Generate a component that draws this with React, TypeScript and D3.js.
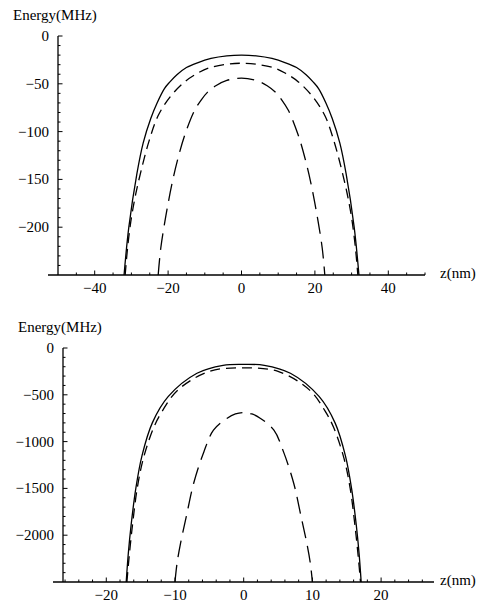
import React from "react";
import * as d3 from "d3";

// ---------- Data ----------
// Top panel
const topSolidZ = [-32, -30.7, -28.5, -26.8, -24.7, -23, -21, -19.5, -17.6, -15, -12, -8.3, -4, 0, 4, 8.3, 12, 15, 17.6, 19.5, 21, 23, 24.7, 26.8, 28.5, 30.7, 32];
const topSolidE = [-250, -200, -144, -112, -86, -70, -55, -48, -40.5, -33, -28, -23.5, -20.8, -20, -20.8, -23.5, -28, -33, -40.5, -48, -55, -70, -86, -112, -144, -200, -250];

const topMedZ = [-31.7, -31, -30, -28.8, -27.3, -25.2, -22.8, -19.5, -15.5, -12, -9, -4, 0, 4, 9, 12, 15.5, 19.5, 22.8, 25.2, 27.3, 28.8, 30, 31, 31.7];
const topMedE = [-250, -220, -190, -165, -140, -110, -84, -64, -48, -39, -33.5, -29.5, -28.5, -29.5, -33.5, -39, -48, -64, -84, -110, -140, -165, -190, -220, -250];

const topLongZ = [-22.7, -22, -20.6, -18.8, -17.1, -15.4, -12.8, -11, -9.3, -7, -4, 0, 4, 7, 9.3, 11, 12.8, 15.4, 17.1, 18.8, 20.6, 22, 22.7];
const topLongE = [-250, -222, -188, -152, -125, -103, -78, -67, -59, -52, -46.5, -44, -46.5, -52, -59, -67, -78, -103, -125, -152, -188, -222, -250];

// Bottom panel
const botSolidZ = [-17.1, -16.8, -16.4, -15.7, -14.8, -13.3, -11, -6.8, -3, 0, 3, 6.8, 11, 13.3, 14.8, 15.7, 16.4, 16.8, 17.1];
const botSolidE = [-2500, -2200, -1900, -1500, -1150, -800, -520, -270, -185, -175, -185, -270, -520, -800, -1150, -1500, -1900, -2200, -2500];

const botMedZ = [-17.0, -16.7, -16.2, -15.5, -14.6, -13.1, -11.9, -9.6, -5, 0, 5, 9.6, 11.9, 13.1, 14.6, 15.5, 16.2, 16.7, 17.0];
const botMedE = [-2500, -2250, -1900, -1500, -1180, -850, -680, -450, -250, -212, -250, -450, -680, -850, -1180, -1500, -1900, -2250, -2500];

const botLongZ = [-10, -9.7, -9.2, -8.35, -7.3, -5.8, -4.4, -2.4, -1.2, 0, 1.2, 2.4, 4.4, 5.8, 7.3, 8.35, 9.2, 9.7, 10];
const botLongE = [-2500, -2300, -2090, -1800, -1450, -1110, -878, -750, -705, -690, -705, -750, -878, -1110, -1450, -1800, -2090, -2300, -2500];

// Ticks
const topXMajor = [-40, -20, 0, 20, 40];
const topYMajor = [0, -50, -100, -150, -200];
const botXMajor = [-20, -10, 0, 10, 20];
const botYMajor = [0, -500, -1000, -1500, -2000];

const yLabel = "Energy(MHz)";
const xLabel = "z(nm)";

const FONT_STYLE = { fontFamily: "Liberation Serif, Times New Roman, Tinos, DejaVu Serif, serif", fontSize: "15px" };
const fmt = d3.format("d");

type Series = { z: number[]; e: number[]; dash: string | null };

type PanelProps = {
  id: string;
  xDomain: [number, number];
  xRange: [number, number];
  yDomain: [number, number];
  yRange: [number, number];
  xMajor: number[];
  xMinorStep: number;
  yMajor: number[];
  yMinorStep: number;
  series: Series[];
  yLabelPos: [number, number];
  xLabelPos: [number, number];
};

function Panel(p: PanelProps) {
  const x = d3.scaleLinear().domain(p.xDomain).range(p.xRange);
  const y = d3.scaleLinear().domain(p.yDomain).range(p.yRange);
  const x0 = p.xRange[0];
  const yBase = p.yRange[0];
  const yTop = p.yRange[1];

  const xMinor = d3
    .range(Math.ceil(p.xDomain[0] / p.xMinorStep) * p.xMinorStep, p.xDomain[1] + 1e-9, p.xMinorStep)
    .filter((v) => Math.abs(v - p.xDomain[0]) > 1e-6);
  const yMinor = d3.range(p.yDomain[0] + p.yMinorStep, p.yDomain[1] + 1e-9, p.yMinorStep);

  const line = d3
    .line<[number, number]>()
    .x((d) => x(d[0]))
    .y((d) => y(d[1]))
    .curve(d3.curveCatmullRom.alpha(0.5));

  return (
    <g>
      <defs>
        <clipPath id={p.id}>
          <rect x={x0} y={yTop - 5} width={p.xRange[1] - x0} height={yBase - yTop + 5} />
        </clipPath>
      </defs>
      <g clipPath={`url(#${p.id})`}>
        {p.series.map((s, i) => (
          <path
            key={i}
            d={line(s.z.map((z, k) => [z, s.e[k]] as [number, number])) || ""}
            fill="none"
            stroke="#000"
            strokeWidth={1.3}
            strokeDasharray={s.dash || undefined}
          />
        ))}
      </g>
      <line x1={x0 - 10} x2={p.xRange[1]} y1={yBase} y2={yBase} stroke="#000" strokeWidth={1.3} />
      {xMinor.map((v) => {
        const major = p.xMajor.some((m) => Math.abs(m - v) < 1e-6);
        return (
          <line key={"xm" + v} x1={x(v)} x2={x(v)} y1={yBase} y2={yBase - (major ? 4.5 : 2.5)} stroke="#000" strokeWidth={1} />
        );
      })}
      {p.xMajor.map((v) => (
        <text key={"xl" + v} x={x(v)} y={yBase + 18} textAnchor="middle" style={FONT_STYLE}>
          {fmt(v)}
        </text>
      ))}
      <line x1={x0} x2={x0} y1={yTop} y2={yBase} stroke="#000" strokeWidth={1.3} />
      {yMinor.map((v) => {
        const major = p.yMajor.some((m) => Math.abs(m - v) < 1e-6);
        return (
          <line key={"ym" + v} x1={x0} x2={x0 + (major ? 4.5 : 2.5)} y1={y(v)} y2={y(v)} stroke="#000" strokeWidth={1} />
        );
      })}
      {p.yMajor.map((v) => (
        <text key={"yl" + v} x={x0 - 9} y={y(v) + 5} textAnchor="end" style={FONT_STYLE}>
          {fmt(v)}
        </text>
      ))}
      <text x={p.yLabelPos[0]} y={p.yLabelPos[1]} style={FONT_STYLE}>
        {yLabel}
      </text>
      <text x={p.xLabelPos[0]} y={p.xLabelPos[1]} style={FONT_STYLE}>
        {xLabel}
      </text>
    </g>
  );
}

export default function App() {
  const MED = "10,6";
  const LONG = "17,8";
  return (
    <svg
      width={480}
      height={607}
      viewBox="0 0 480 607"
      style={{ position: "absolute", left: 0, top: 0, background: "#fff" }}
    >
      <rect x={0} y={0} width={480} height={607} fill="#fff" />
      <Panel
        id="clipTop"
        xDomain={[-50, 50]}
        xRange={[58, 425]}
        yDomain={[-250, 0]}
        yRange={[275, 36]}
        xMajor={topXMajor}
        xMinorStep={5}
        yMajor={topYMajor}
        yMinorStep={10}
        series={[
          { z: topSolidZ, e: topSolidE, dash: null },
          { z: topMedZ, e: topMedE, dash: MED },
          { z: topLongZ, e: topLongE, dash: LONG },
        ]}
        yLabelPos={[13, 20]}
        xLabelPos={[440, 278]}
      />
      <Panel
        id="clipBot"
        xDomain={[-26.3, 27.7]}
        xRange={[63, 434]}
        yDomain={[-2500, 0]}
        yRange={[582, 348]}
        xMajor={botXMajor}
        xMinorStep={2}
        yMajor={botYMajor}
        yMinorStep={100}
        series={[
          { z: botSolidZ, e: botSolidE, dash: null },
          { z: botMedZ, e: botMedE, dash: MED },
          { z: botLongZ, e: botLongE, dash: LONG },
        ]}
        yLabelPos={[18, 332]}
        xLabelPos={[440, 585]}
      />
    </svg>
  );
}
